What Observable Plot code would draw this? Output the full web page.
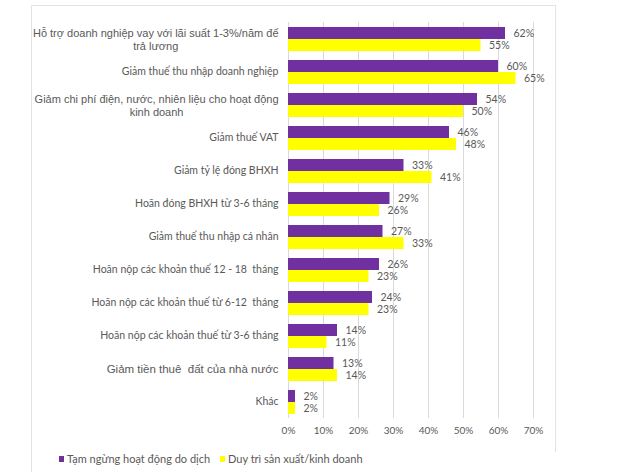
<!DOCTYPE html>
<html>
<head>
<meta charset="utf-8">
<script src="https://cdn.jsdelivr.net/npm/d3@7"></script>
<script src="https://cdn.jsdelivr.net/npm/@observablehq/plot@0.6"></script>
<style>
  html, body { margin: 0; padding: 0; background: #fff; }
  body { width: 630px; height: 472px; position: relative; overflow: hidden; }
  #frame { position: absolute; left: 31px; top: 5px; width: 523px; height: 470px;
           border-top: 1px solid #e3e3e3; border-left: 1px solid #e3e3e3; }
  #rline { position: absolute; left: 555px; top: 5px; width: 1px; height: 447px; background: #e3e3e3; }
  #chart { position: absolute; left: 31px; top: 5px; }
  .legend { position: absolute; top: 452px; font-family: Lato, "Open Sans", sans-serif;
            font-size: 11px; color: #595959; display: flex; align-items: center; white-space: nowrap; }
  .legend .sw { width: 5px; height: 6px; margin-right: 3px; }
</style>
</head>
<body>
<div id="frame"></div>
<div id="rline"></div>
<div id="chart"></div>
<div class="legend" style="left:59px"><span class="sw" style="background:#7030A0"></span><span id="lg1"></span></div>
<div class="legend" style="left:220px"><span class="sw" style="background:#FFFF00"></span><span id="lg2"></span></div>
<script>
const categories = [
  "Hỗ trợ doanh nghiệp vay với lãi suất 1-3%/năm để\ntrả lương",
  "Giảm thuế thu nhập doanh nghiệp",
  "Giảm chi phí điện, nước, nhiên liệu cho hoạt động\nkinh doanh",
  "Giảm thuế VAT",
  "Giảm tỷ lệ đóng BHXH",
  "Hoãn đóng BHXH từ 3-6 tháng",
  "Giảm thuế thu nhập cá nhân",
  "Hoãn nộp các khoản thuế 12 - 18  tháng",
  "Hoãn nộp các khoản thuế từ 6-12  tháng",
  "Hoãn nộp các khoản thuế từ 3-6 tháng",
  "Giảm tiền thuê  đất của nhà nước",
  "Khác"
];
const seriesNames = ["Tạm ngừng hoạt động do dịch", "Duy trì sản xuất/kinh doanh"];
const pausedValues = [62, 60, 54, 46, 33, 29, 27, 26, 24, 14, 13, 2];
const maintainValues = [55, 65, 50, 48, 41, 26, 33, 23, 23, 11, 14, 2];
const xTicks = [0, 10, 20, 30, 40, 50, 60, 70];
// categories whose label is drawn in the Arial-like font
const arialLabels = [categories[0], categories[2], categories[10]];

const seriesColors = ["#7030A0", "#FFFF00"];
const rows = categories.flatMap((c, i) => [
  {cat: c, series: seriesNames[0], v: pausedValues[i]},
  {cat: c, series: seriesNames[1], v: maintainValues[i]}
]);

document.getElementById("lg1").textContent = seriesNames[0];
document.getElementById("lg2").textContent = seriesNames[1];

const labelFontCalibri = "Lato, 'Open Sans', sans-serif";
const labelFontArial = "'Liberation Sans', Arial, sans-serif";

// measure width of first line for centered wrapped labels
const ctx = document.createElement("canvas").getContext("2d");
function measure(text, size, family) {
  ctx.font = `${size}px ${family}`;
  return ctx.measureText(text).width;
}

const singleCal = categories.filter(c => !arialLabels.includes(c));
const singleArial = arialLabels.filter(c => !c.includes("\n"));
const wrapped = arialLabels.filter(c => c.includes("\n"));

const labelMarks = [];
labelMarks.push(Plot.text(singleCal.map(c => ({cat: c})), {
  fy: "cat", text: "cat", frameAnchor: "left", dx: -10, textAnchor: "end",
  fontSize: 10.5, fontFamily: labelFontCalibri, fill: "#595959"
}));
labelMarks.push(Plot.text(singleArial.map(c => ({cat: c})), {
  fy: "cat", text: "cat", frameAnchor: "left", dx: -10, textAnchor: "end",
  fontSize: 11.5, fontFamily: labelFontArial, fill: "#595959"
}));
for (const c of wrapped) {
  const [l1, l2] = c.split("\n");
  const w = measure(l1, 11, "Liberation Sans");
  labelMarks.push(Plot.text([{cat: c, t: l1 + "\n" + l2}], {
    fy: "cat", text: "t", frameAnchor: "left", dx: -10 - w / 2, textAnchor: "middle",
    fontSize: 11, fontFamily: labelFontArial, fill: "#595959", lineHeight: 1.2
  }));
}

const chart = Plot.plot({
  width: 524,
  height: 442,
  marginLeft: 257,
  marginRight: 22,
  marginTop: 13,
  marginBottom: 25,
  style: {fontFamily: labelFontCalibri, color: "#595959", background: "transparent"},
  x: {domain: [0, 70], ticks: xTicks, tickFormat: d => d + "%", tickSize: 0, tickPadding: 8, label: null, fontSize: 10},
  y: {domain: seriesNames, paddingInner: 0, paddingOuter: 0.29, axis: null},
  fy: {domain: categories, padding: 0, axis: null},
  color: {domain: seriesNames, range: seriesColors},
  marks: [
    Plot.gridX(xTicks, {stroke: "#d9d9d9", strokeOpacity: 1}),
    Plot.axisX(xTicks, {tickFormat: d => d + "%", tickSize: 0, tickPadding: 8, fontSize: 10, fill: "#595959", label: null}),
    Plot.barX(rows, {x: "v", y: "series", fy: "cat", fill: "series"}),
    Plot.text(rows, {x: "v", y: "series", fy: "cat", text: d => d.v + "%", textAnchor: "start", dx: 8,
      fontSize: 10.5, fill: "#595959", fontFamily: labelFontCalibri}),
    ...labelMarks
  ]
});
document.getElementById("chart").appendChild(chart);
</script>
</body>
</html>
